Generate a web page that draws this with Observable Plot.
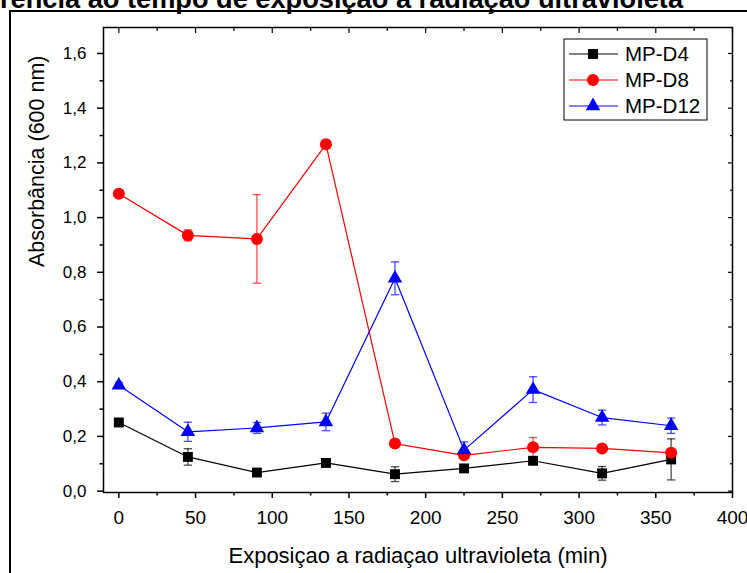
<!DOCTYPE html>
<html><head><meta charset="utf-8">
<script src="https://cdn.jsdelivr.net/npm/d3@7"></script>
<script src="https://cdn.jsdelivr.net/npm/@observablehq/plot@0.6"></script>
<style>
body{margin:0;background:#fff}
#chart{position:relative;width:747px;height:573px;overflow:hidden}
</style>
</head><body><div id="chart"></div>
<script>
// ---- data ----
const times = [0, 45, 90, 135, 180, 225, 270, 315, 360];
const seriesNames = ["MP-D4", "MP-D8", "MP-D12"];
const seriesColors = ["#000000", "#ff0000", "#0000ff"];
const seriesSymbols = ["square", "circle", "triangle"];
const valuesD4 = [0.251, 0.125, 0.068, 0.103, 0.062, 0.083, 0.111, 0.065, 0.116];
const errorsD4 = [0.005, 0.030, 0.008, 0.008, 0.027, 0.010, 0.010, 0.025, 0.075];
const valuesD8 = [1.087, 0.935, 0.922, 1.268, 0.174, 0.131, 0.160, 0.156, 0.140];
const errorsD8 = [0.008, 0.020, 0.162, 0.015, 0.008, 0.008, 0.036, 0.008, 0.010];
const valuesD12 = [0.387, 0.217, 0.231, 0.253, 0.778, 0.150, 0.371, 0.269, 0.239];
const errorsD12 = [0.010, 0.035, 0.020, 0.032, 0.060, 0.030, 0.047, 0.027, 0.028];
const yTicks = [0, 0.2, 0.4, 0.6, 0.8, 1.0, 1.2, 1.4, 1.6];
const yMinorTicks = [0.1, 0.3, 0.5, 0.7, 0.9, 1.1, 1.3, 1.5];
const xTicks = [0, 50, 100, 150, 200, 250, 300, 350, 400];
const xMinorTicks = [25, 75, 125, 175, 225, 275, 325, 375];
const titleText = "rencia ao tempo de exposiçao a radiaçao ultravioleta";
const xLabel = "Exposiçao a radiaçao ultravioleta (min)";
const yLabel = "Absorbância (600 nm)";

// ---- table ----
const allValues = [valuesD4, valuesD8, valuesD12];
const allErrors = [errorsD4, errorsD8, errorsD12];
const rows = [];
seriesNames.forEach((s, i) => times.forEach((t, j) => rows.push({series: s, t, v: allValues[i][j], e: allErrors[i][j]})));

const FONT = "'Liberation Sans', Arial, sans-serif";
const fmt = d => d3.format(".1f")(d).replace(".", ",");
const blank = () => "";
const capHalf = 2.7;
const dotR = {"MP-D4": 5.6, "MP-D8": 6, "MP-D12": 5.4};

const marks = [
  Plot.frame({stroke: "black", strokeWidth: 1.5}),
  Plot.axisY(yTicks, {anchor: "left", tickSize: 6, tickPadding: 11, tickFormat: fmt, fontSize: 17, label: null, strokeWidth: 1.5}),
  Plot.axisY(yMinorTicks, {anchor: "left", tickSize: 3.5, tickFormat: blank, label: null, strokeWidth: 1.5}),
  Plot.axisY(yTicks, {anchor: "right", tickSize: -5, tickPadding: 0, tickFormat: blank, label: null, strokeWidth: 1.2}),
  Plot.axisY(yMinorTicks, {anchor: "right", tickSize: -3, tickPadding: 0, tickFormat: blank, label: null, strokeWidth: 1.2}),
  Plot.axisX(xTicks, {anchor: "bottom", tickSize: 6, tickPadding: 12, fontSize: 19, label: null, strokeWidth: 1.5}),
  Plot.axisX(xMinorTicks, {anchor: "bottom", tickSize: 3.5, tickFormat: blank, label: null, strokeWidth: 1.5}),
  Plot.axisX(xTicks, {anchor: "top", tickSize: -5, tickPadding: 0, tickFormat: blank, label: null, strokeWidth: 1.2}),
  Plot.axisX(xMinorTicks, {anchor: "top", tickSize: -3, tickPadding: 0, tickFormat: blank, label: null, strokeWidth: 1.2}),
  // error bars
  Plot.ruleX(rows, {x: "t", y1: d => d.v - d.e, y2: d => d.v + d.e, stroke: "series", strokeOpacity: 0.7, strokeWidth: 1.3}),
  Plot.link(rows, {x1: d => d.t - capHalf, x2: d => d.t + capHalf, y1: d => d.v + d.e, y2: d => d.v + d.e, stroke: "series", strokeOpacity: 0.7, strokeWidth: 1.3}),
  Plot.link(rows, {x1: d => d.t - capHalf, x2: d => d.t + capHalf, y1: d => d.v - d.e, y2: d => d.v - d.e, stroke: "series", strokeOpacity: 0.7, strokeWidth: 1.3}),
];
seriesNames.forEach(s => {
  const sub = rows.filter(d => d.series === s);
  marks.push(Plot.line(sub, {x: "t", y: "v", stroke: "series", strokeWidth: 1.2}));
  marks.push(Plot.dot(sub, {x: "t", y: "v", fill: "series", symbol: "series", r: dotR[s], stroke: "none"}));
});
marks.push(
  Plot.text([xLabel], {text: d => d, frameAnchor: "bottom", dy: 63, fontSize: 22, lineAnchor: "middle", fill: "black"}),
  Plot.text([yLabel], {text: d => d, frameAnchor: "left", dx: -66, dy: 7, rotate: -90, fontSize: 21.5, lineAnchor: "middle", fill: "black"})
);

const chart = Plot.plot({
  width: 747, height: 573,
  marginLeft: 103, marginRight: 15, marginTop: 27, marginBottom: 81,
  style: {fontFamily: FONT, color: "black", background: "white", overflow: "visible"},
  x: {domain: [-10, 400], axis: null},
  y: {domain: [-0.005, 1.695], axis: null},
  color: {domain: seriesNames, range: seriesColors},
  symbol: {domain: seriesNames, range: seriesSymbols},
  marks
});
document.getElementById("chart").appendChild(chart);

// outer figure border and cropped title
const svg = d3.select(chart);
svg.append("path").attr("d", "M10,600 L10,11 L760,11").attr("fill", "none").attr("stroke", "black").attr("stroke-width", 2);
svg.append("text").attr("x", 683).attr("y", 8).attr("text-anchor", "end")
  .attr("font-family", FONT).attr("font-weight", "bold").attr("font-size", 27.2).attr("fill", "black").text(titleText);

// legend
const lg = svg.append("g");
lg.append("rect").attr("x", 564).attr("y", 39).attr("width", 143).attr("height", 81)
  .attr("fill", "white").attr("stroke", "black").attr("stroke-width", 1);
const symMap = {square: d3.symbolSquare, circle: d3.symbolCircle, triangle: d3.symbolTriangle};
seriesNames.forEach((s, i) => {
  const yy = 54 + i * 26;
  lg.append("line").attr("x1", 569).attr("x2", 618).attr("y1", yy).attr("y2", yy).attr("stroke", seriesColors[i]).attr("stroke-width", 1.2);
  lg.append("path").attr("transform", `translate(593,${yy})`)
    .attr("d", d3.symbol(symMap[seriesSymbols[i]], Math.PI * dotR[s] * dotR[s])()).attr("fill", seriesColors[i]);
  lg.append("text").attr("x", 625).attr("y", yy).attr("dy", "0.36em").attr("text-anchor", "start")
    .attr("font-family", FONT).attr("font-size", 20.5).attr("fill", "black").text(s);
});
</script>
</body></html>
